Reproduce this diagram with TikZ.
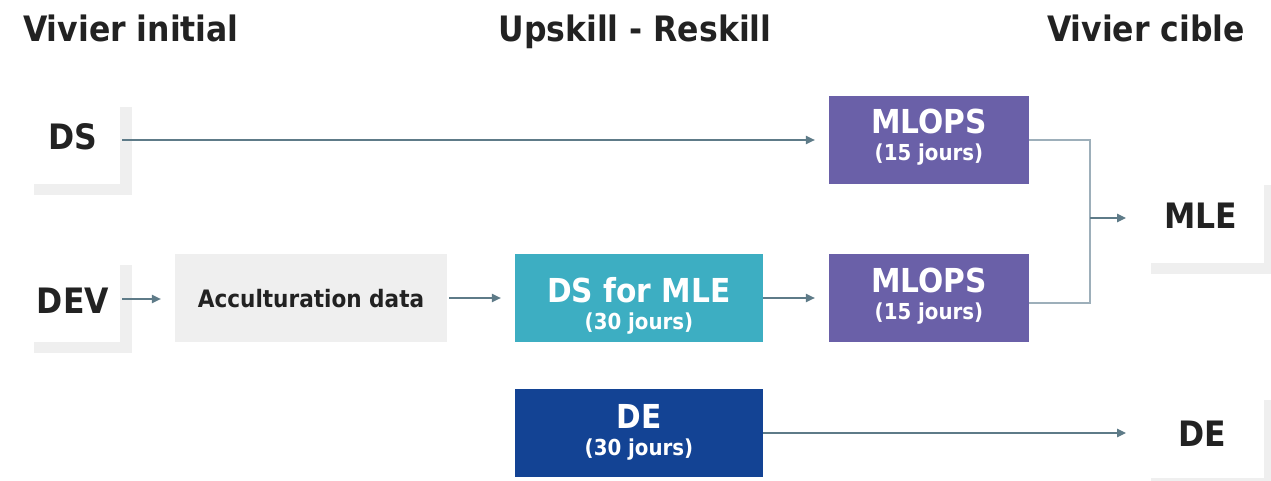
\documentclass[tikz,border=0pt]{standalone}
\usepackage{fontspec}
\setmainfont{DejaVu Sans Condensed}
\usetikzlibrary{arrows.meta}

\definecolor{inkdark}{HTML}{222222}
\definecolor{panelgray}{HTML}{EFEFEF}
\definecolor{mlopsviolet}{HTML}{6A60A8}
\definecolor{dsteal}{HTML}{3DAEC2}
\definecolor{denavy}{HTML}{134394}
\definecolor{arrowslate}{HTML}{5E7B88}
\definecolor{bracketgray}{HTML}{9DAFBA}

\newcommand{\fsz}[1]{\fontsize{#1}{#1}\selectfont}

\tikzset{
  header/.style={anchor=base, text=inkdark, font=\fsz{35}\bfseries, inner sep=0pt},
  poollabel/.style={anchor=base, text=inkdark, font=\fsz{35}\bfseries, inner sep=0pt},
  stagebox/.style={rectangle, minimum width=248pt, minimum height=88pt, inner sep=0pt},
  boxtitle/.style={anchor=base, text=white, font=\fsz{33}\bfseries, inner sep=0pt},
  boxsub/.style={anchor=base, text=white, font=\fsz{22}\bfseries, inner sep=0pt},
  flow/.style={draw=arrowslate, line width=1.1pt,
    -{Triangle[length=9pt,width=8.5pt]}, shorten >=14pt},
  bracket/.style={draw=bracketgray, line width=1.4pt},
  cornerbar/.style={fill=panelgray},
}

\begin{document}
\begin{tikzpicture}[x=1pt, y=-1pt]
\useasboundingbox (0,0) rectangle (1271,481);

% column headings
\node[header] (hinit) at (131,42) {Vivier initial};
\node[header] (hskill) at (635,42) {Upskill - Reskill};
\node[header] (hcible) at (1146,42) {Vivier cible};

% L-shaped frames behind the pool labels
\fill[cornerbar] (120,107) rectangle (132,195);
\fill[cornerbar] (34,184) rectangle (132,195);
\fill[cornerbar] (120,265) rectangle (132,353);
\fill[cornerbar] (34,342) rectangle (132,353);
\fill[cornerbar] (1264,185) rectangle (1271,274);
\fill[cornerbar] (1151,263) rectangle (1271,274);
\fill[cornerbar] (1264,400) rectangle (1271,481);
\fill[cornerbar] (1151,478) rectangle (1271,481);

% pool labels
\node[poollabel] (ds) at (73,150) {DS};
\node[poollabel] (dev) at (73,313) {DEV};
\node[poollabel] (mle) at (1201,228) {MLE};
\node[poollabel] (de) at (1202,446) {DE};

% training stages
\node[stagebox, fill=panelgray, minimum width=272pt] (accult) at (311,298) {};
\node[anchor=base, text=inkdark, font=\fsz{24}\bfseries, inner sep=0pt] (accultxt) at (311,307) {Acculturation data};

\node[stagebox, fill=dsteal] (dsmle) at (639,298) {};
\node[boxtitle] (dsmlet) at (639,302) {DS for MLE};
\node[boxsub] (dsmles) at (639,329) {(30 jours)};

\node[stagebox, fill=mlopsviolet, minimum width=200pt] (mlopsa) at (929,140) {};
\node[boxtitle] (mlopsat) at (929,134) {MLOPS};
\node[boxsub] (mlopsas) at (929,161) {(15 jours)};

\node[stagebox, fill=mlopsviolet, minimum width=200pt] (mlopsb) at (929,298) {};
\node[boxtitle] (mlopsbt) at (929,292) {MLOPS};
\node[boxsub] (mlopsbs) at (929,319) {(15 jours)};

\node[stagebox, fill=denavy] (debox) at (639,433) {};
\node[boxtitle] (debt) at (639,428) {DE};
\node[boxsub] (debs) at (639,455) {(30 jours)};

% flows
\coordinate (dsout) at (122,140);
\coordinate (devout) at (122,299);
\draw[flow] (dsout) -- (mlopsa.west);
\draw[flow] (devout) -- (devout -| accult.west);
\draw[flow] ([xshift=2pt]accult.east) -- (dsmle.west);
\draw[flow] (dsmle.east) -- (mlopsb.west);

% merge into MLE
\coordinate (merge) at (1090,218);
\coordinate (mlein) at (1126,218);
\draw[bracket] (mlopsa.east) -| (merge) |- ([yshift=-5pt]mlopsb.east);
\draw[flow, shorten >=0pt] (merge) -- (mlein);

% DE straight to target pool
\coordinate (dein) at (1126,433);
\draw[flow, shorten >=0pt] (debox.east) -- (dein);
\end{tikzpicture}
\end{document}
